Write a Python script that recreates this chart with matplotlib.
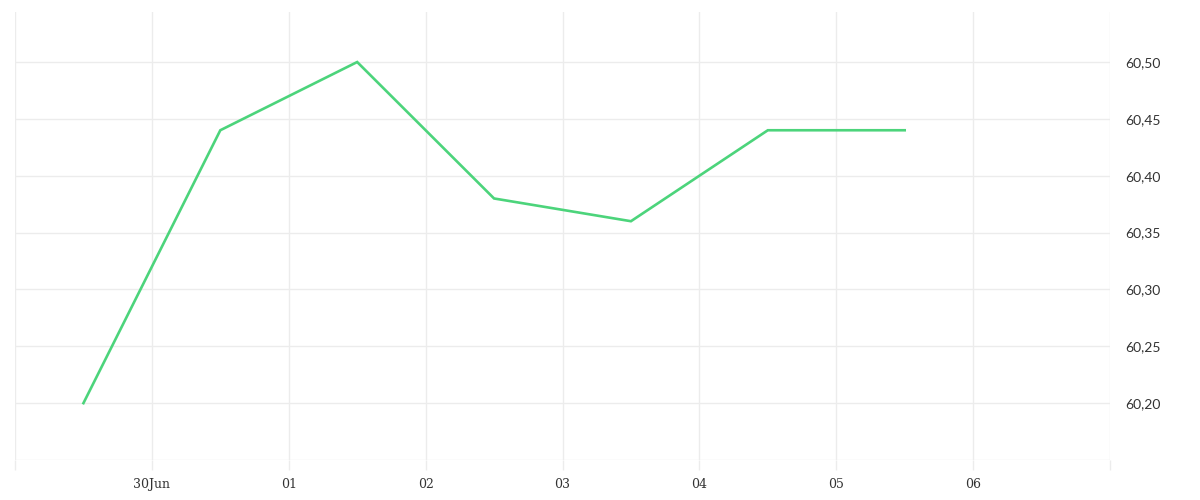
import matplotlib
matplotlib.use("Agg")
import matplotlib.pyplot as plt
from matplotlib.ticker import FuncFormatter, MultipleLocator
import pandas as pd

dates = pd.to_datetime([
    "2023-06-29 12:00", "2023-06-30 12:00", "2023-07-01 12:00",
    "2023-07-02 12:00", "2023-07-03 12:00", "2023-07-04 12:00",
    "2023-07-05 12:00",
])
values = [60.20, 60.44, 60.50, 60.38, 60.36, 60.44, 60.44]

tick_days = pd.date_range("2023-06-29", "2023-07-07", freq="D")
tick_labels = ["", "30Jun", "01", "02", "03", "04", "05", "06", ""]

GRID = "#ececec"
LINE = "#4cd47b"
TEXT = "#333333"


def fmt_y(v, _):
    # bottom gridline has no label
    if v < 60.175:
        return ""
    return f"{v:.2f}".replace(".", ",")


fig = plt.figure(figsize=(12, 5), dpi=100)
ax = fig.add_axes([0.0125, 0.08, 0.9125, 0.896])

ax.plot(dates, values, color=LINE, lw=1.9, solid_joinstyle="miter")

ax.set_xlim(tick_days[0], tick_days[-1])
ax.set_ylim(60.15, 60.544)

ax.set_xticks(tick_days)
ax.set_xticklabels(tick_labels, fontfamily="DejaVu Serif", fontsize=9, color=TEXT)
ax.yaxis.set_major_locator(MultipleLocator(0.05))
ax.yaxis.set_major_formatter(FuncFormatter(fmt_y))
ax.yaxis.tick_right()
for lab in ax.get_yticklabels():
    lab.set_fontfamily("Lato")
    lab.set_fontsize(10)
    lab.set_color(TEXT)

ax.tick_params(axis="x", length=7, color=GRID, width=1, pad=6)
ax.tick_params(axis="y", length=0, pad=11)
ax.grid(True, color=GRID, lw=1)
ax.set_axisbelow(True)
for s in ax.spines.values():
    s.set_visible(False)

fig.savefig("out.png", dpi=100, facecolor="white")
